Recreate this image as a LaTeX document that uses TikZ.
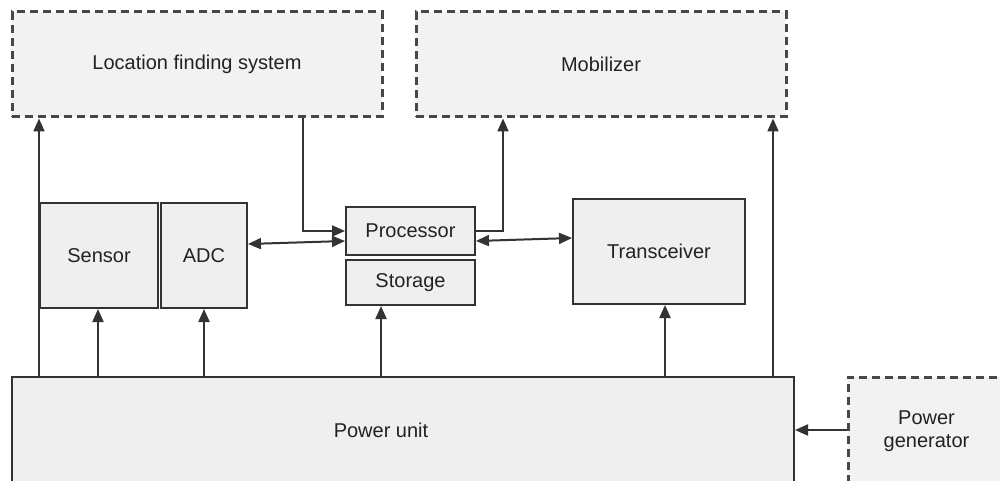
\documentclass[tikz,border=0pt]{standalone}
\usepackage{fontspec}
\setmainfont{Liberation Sans}
\usetikzlibrary{arrows.meta}
\definecolor{boxfill}{HTML}{EFEFEF}
\definecolor{dashfill}{HTML}{F2F2F2}
\definecolor{edge}{HTML}{333333}
\definecolor{txt}{HTML}{222222}
\begin{document}
\begin{tikzpicture}[x=1pt,y=-1pt,
  every node/.style={font=\fontsize{20}{24}\selectfont, text=txt, inner sep=0pt},
  solidbox/.style={draw=edge, fill=boxfill, line width=2pt, rectangle},
  dashbox/.style={draw=edge!90, fill=dashfill, line width=3pt, dash pattern=on 8pt off 5pt, rectangle},
  arr/.style={draw=edge, line width=2pt, -{Triangle[length=13pt,width=11pt]}},
  darr/.style={draw=edge, line width=2pt, {Triangle[length=13pt,width=11pt]}-{Triangle[length=13pt,width=11pt]}}]
\useasboundingbox (0,0) rectangle (1000,481);
\fill[white] (0,0) rectangle (1000,481);
% dashed boxes
\node[dashbox, minimum width=370pt, minimum height=105pt] (loc) at (197,64.5) {Location finding system};
\node[dashbox, minimum width=370pt, minimum height=105pt] (mob) at (601,64.5) {Mobilizer};
\node[dashbox, minimum width=157pt, minimum height=108pt, align=center] (gen) at (926.5,431) {Power\\[-1pt]generator};
% solid boxes
\node[solidbox, minimum width=118pt, minimum height=105pt] (sensor) at (99,255.5) {Sensor};
\node[solidbox, minimum width=86pt, minimum height=105pt] (adc) at (204,255.5) {ADC};
\node[solidbox, minimum width=129pt, minimum height=48pt] (proc) at (410.5,231) {Processor};
\node[solidbox, minimum width=129pt, minimum height=45pt] (stor) at (410.5,282.5) {Storage};
\node[solidbox, minimum width=172pt, minimum height=105pt] (trans) at (659,251.5) {Transceiver};
\node[solidbox, minimum width=782pt, minimum height=108pt] (pu) at (403,431) {};
\node (putext) at (381,430) {Power unit};
% power connectors
\draw[arr] (pu.north -| sensor.west) -- (loc.south -| sensor.west);
\draw[arr] (pu.north -| 98,0) -- (sensor.south -| 98,0);
\draw[arr] (pu.north -| adc.south) -- (adc.south);
\draw[arr] (pu.north -| 381,0) -- (stor.south -| 381,0);
\draw[arr] (pu.north -| 665,0) -- (trans.south -| 665,0);
\draw[arr] (pu.north -| 773,0) -- (mob.south -| 773,0);
% data connectors
\draw[arr] (loc.south -| 303,0) |- (proc.west);
\draw[arr] (proc.east) -| (mob.south -| 503,0);
\draw[darr] (adc.east |- 0,244) -- (proc.west |- 0,241);
\draw[darr] (proc.east |- 0,241) -- (trans.west |- 0,238);
\draw[arr] (gen.west |- 0,430) -- (pu.east |- 0,430);
\end{tikzpicture}
\end{document}
